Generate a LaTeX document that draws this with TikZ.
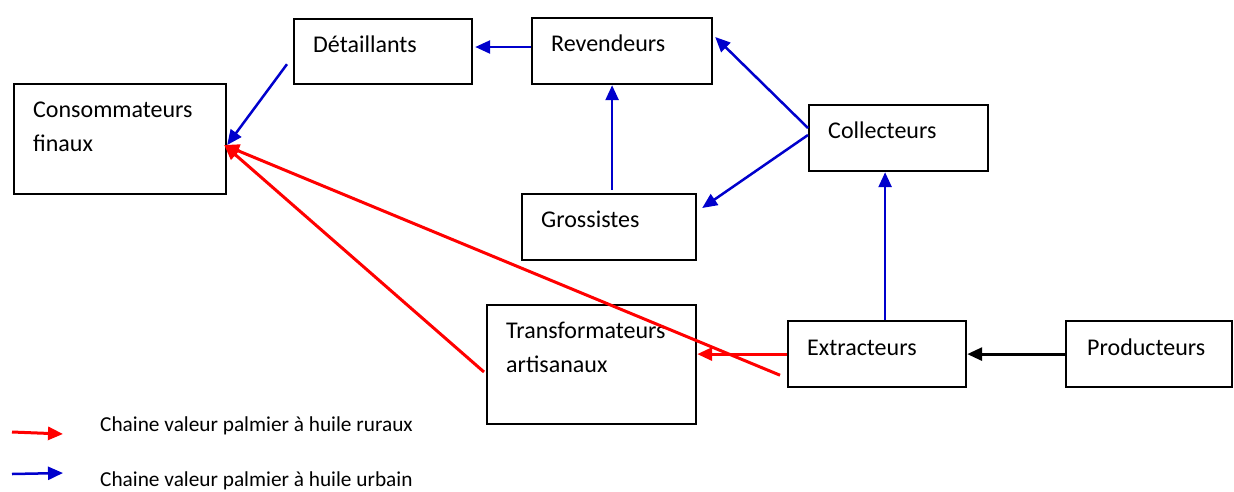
\documentclass[tikz,border=0pt]{standalone}
\usepackage{fontspec}
\setmainfont{Carlito}
\usetikzlibrary{arrows.meta,calc}
\definecolor{ublue}{RGB}{0,0,204}
\definecolor{rred}{RGB}{255,0,0}
\begin{document}
\begin{tikzpicture}[x=1pt,y=-1pt,
  box/.style={draw=black,line width=2.2pt,anchor=north west,inner sep=0pt},
  lbl/.style={anchor=base west,inner sep=0pt,font=\fontsize{24}{28}\selectfont},
  leg/.style={anchor=base west,inner sep=0pt,font=\fontsize{21.3}{25}\selectfont},
  conn/.style={line width=2.5pt,-{Triangle[length=15pt,width=13pt]}},
  bconn/.style={conn,draw=ublue,fill=ublue},
  rconn/.style={conn,line width=3pt,draw=rred,fill=rred},
  kconn/.style={conn,line width=3pt,draw=black,fill=black}]
\useasboundingbox (0,0) rectangle (1234,491);
% boxes
\node[box,minimum width=178pt,minimum height=65pt] (det) at (293,18) {};
\node[box,minimum width=180pt,minimum height=66pt] (rev) at (531,17) {};
\node[box,minimum width=212pt,minimum height=110pt] (cons) at (13,83) {};
\node[box,minimum width=179pt,minimum height=66pt] (col) at (808,104) {};
\node[box,minimum width=174pt,minimum height=66pt] (gro) at (521,193) {};
\node[box,minimum width=209pt,minimum height=119pt] (tra) at (486,304) {};
\node[box,minimum width=178pt,minimum height=66pt] (ext) at (787,320) {};
\node[box,minimum width=166pt,minimum height=66pt] (pro) at (1065,320) {};
% texts
\node[lbl] (detT) at ($(det.north west)+(20,34)$) {Détaillants};
\node[lbl] (revT) at ($(rev.north west)+(20,34)$) {Revendeurs};
\node[lbl] (consT1) at ($(cons.north west)+(20,34)$) {Consommateurs};
\node[lbl] (consT2) at ($(cons.north west)+(20,68)$) {finaux};
\node[lbl] (colT) at ($(col.north west)+(20,34)$) {Collecteurs};
\node[lbl] (groT) at ($(gro.north west)+(20,34)$) {Grossistes};
\node[lbl] (traT1) at ($(tra.north west)+(20,34)$) {Transformateurs};
\node[lbl] (traT2) at ($(tra.north west)+(20,68)$) {artisanaux};
\node[lbl] (extT) at ($(ext.north west)+(20,35)$) {Extracteurs};
\node[lbl] (proT) at ($(pro.north west)+(22,35)$) {Producteurs};
% connectors
\draw[bconn] ($(rev.north west)+(0,30)$) -- ($(det.north east)+(2,29)$);
\draw[bconn] ($(det.south west)+(-6,-21)$) -- ($(cons.north east)+(0,62)$);
\draw[bconn] ($(col.north west)+(0,24)$) -- ($(rev.north east)+(2,20)$);
\draw[bconn] ($(col.north west)+(0,31)$) -- ($(gro.north east)+(5,15)$);
\draw[bconn] ($(gro.north)+(3,-3)$) -- ($(rev.south)+(-10,0)$);
\draw[bconn] ($(ext.north)+(8,0)$) -- ($(col.south)+(-13.5,0)$);
\draw[kconn] (pro.west |- ext.east) -- (ext.east);
\draw[rconn] (ext.west) -- (tra.east |- ext.west);
\draw[rconn] ($(ext.south west)+(-7,-13)$) -- ($(cons.north east)+(-3,62)$);
\draw[rconn] ($(tra.north west)+(-2,68)$) -- ($(cons.north east)+(-3,62)$);
% legend
\coordinate (l1a) at (12,432);
\coordinate (l1b) at (63,434);
\coordinate (l2a) at (12,474);
\coordinate (l2b) at (63,473);
\draw[rconn] (l1a) -- (l1b);
\draw[bconn] (l2a) -- (l2b);
\node[leg] (leg1) at (100,431) {Chaine valeur palmier à huile ruraux};
\node[leg] (leg2) at (100,486) {Chaine valeur palmier à huile urbain};
\end{tikzpicture}
\end{document}
